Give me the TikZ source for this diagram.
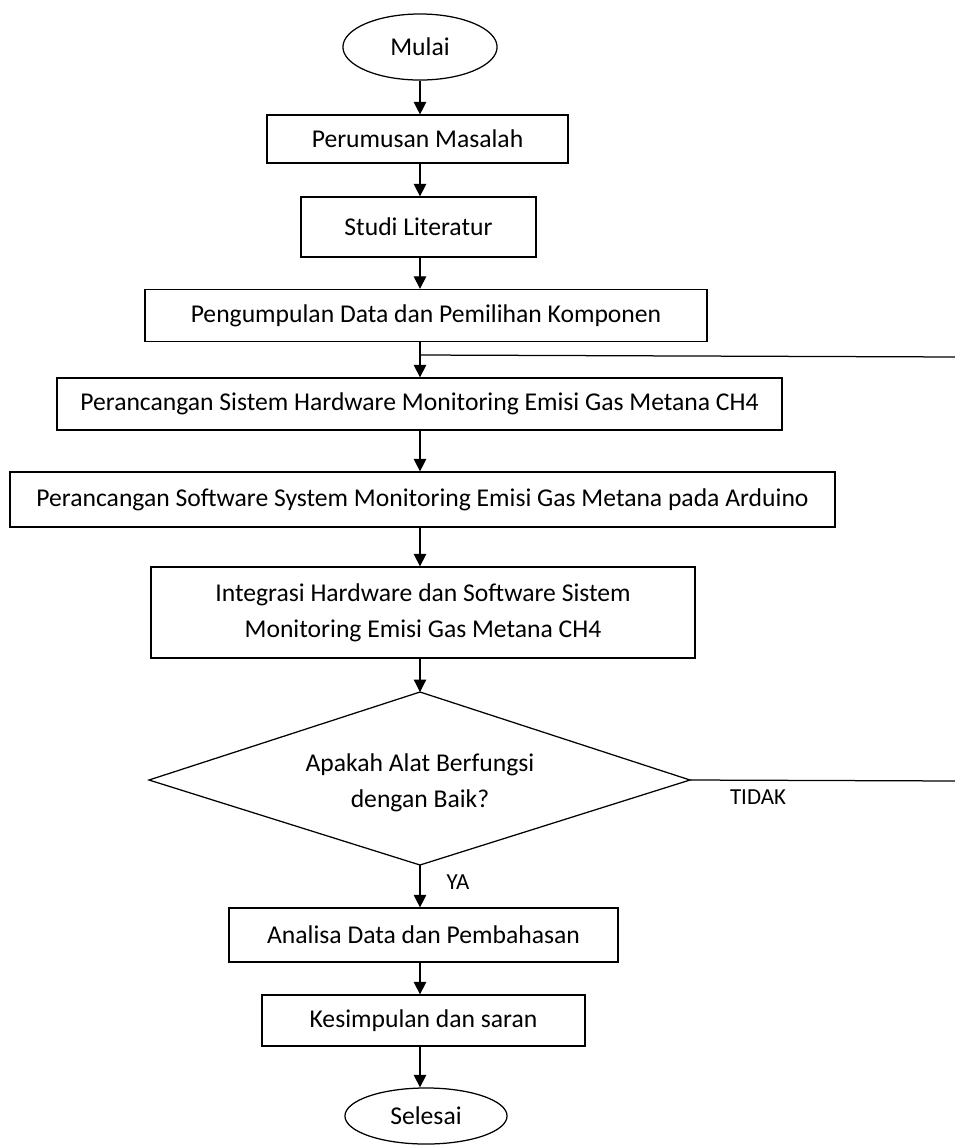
\documentclass[tikz,border=0pt]{standalone}
\usepackage{fontspec}
\setmainfont{Carlito}
\usetikzlibrary{arrows.meta,positioning,shapes.geometric,calc}

\begin{document}
\begin{tikzpicture}[x=0.48pt,y=-0.48pt,
  flowbox/.style={draw,line width=0.6pt,rectangle,align=center,font=\fontsize{12.3}{17.3}\selectfont,inner sep=2pt},
  flowterm/.style={draw,line width=0.6pt,ellipse,inner sep=0pt,font=\fontsize{12.3}{15}\selectfont},
  flowtext/.style={align=center,inner sep=0pt,font=\fontsize{12.3}{17.3}\selectfont},
  flowarr/.style={-{Triangle[length=6pt,width=6pt]},line width=0.6pt},
  flowline/.style={line width=0.6pt},
  flowlabel/.style={font=\fontsize{11}{13}\selectfont}
]
  \useasboundingbox (0,0) rectangle (954,1148);
  \coordinate (spine) at (420,0);

  % start
  \node[flowterm,minimum width=74pt,minimum height=31.7pt] (mulai) at (420,47) {Mulai};

  % steps
  \node[flowbox,minimum width=144.5pt,minimum height=23pt] (rumus) at (417.5,139) {Perumusan Masalah};
  \node[flowbox,minimum width=112.8pt,minimum height=28.8pt] (studi) at (418.5,227) {Studi Literatur};
  \node[flowbox,minimum width=269.8pt,minimum height=25pt] (kumpul) at (426,315.5) {Pengumpulan Data dan Pemilihan Komponen};
  \node[flowbox,minimum width=348pt,minimum height=25pt] (hardware) at (419.5,404) {Perancangan Sistem Hardware Monitoring Emisi Gas Metana CH4};
  \node[flowbox,minimum width=396pt,minimum height=26.4pt] (software) at (422.5,499.5) {Perancangan Software System Monitoring Emisi Gas Metana pada Arduino};
  \node[flowbox,minimum width=261pt,minimum height=43.7pt] (integrasi) at (423,612.5) {Integrasi Hardware dan Software Sistem\\Monitoring Emisi Gas Metana CH4};

  % decision
  \coordinate (cektop) at (420,692);
  \coordinate (cekright) at (690,780);
  \coordinate (cekbot) at (420,865);
  \coordinate (cekleft) at (149,780);
  \draw[flowline] (cektop) -- (cekright) -- (cekbot) -- (cekleft) -- cycle;
  \node[flowtext] (cek) at (420,783) {Apakah Alat Berfungsi\\dengan Baik?};

  % end part
  \node[flowbox,minimum width=186.7pt,minimum height=25.9pt] (analisa) at (423.5,935) {Analisa Data dan Pembahasan};
  \node[flowbox,minimum width=155pt,minimum height=24.5pt] (simpul) at (423.5,1020.5) {Kesimpulan dan saran};
  \node[flowterm,minimum width=77.8pt,minimum height=26.9pt] (selesai) at (426,1116) {Selesai};

  % main arrows
  \draw[flowarr] (mulai.south -| spine) -- (rumus.north -| spine);
  \draw[flowarr] (rumus.south -| spine) -- (studi.north -| spine);
  \draw[flowarr] (studi.south -| spine) -- (kumpul.north -| spine);
  \draw[flowarr] (kumpul.south -| spine) -- (hardware.north -| spine);
  \draw[flowarr] (hardware.south -| spine) -- (software.north -| spine);
  \draw[flowarr] (software.south -| spine) -- (integrasi.north -| spine);
  \draw[flowarr] (integrasi.south -| spine) -- (cektop);
  \draw[flowarr] (cekbot) -- (analisa.north -| cekbot);
  \draw[flowarr] (analisa.south -| spine) -- (simpul.north -| spine);
  \draw[flowarr] (simpul.south -| spine) -- (selesai.north -| spine);

  % loop back
  \coordinate (balik) at (420,355);
  \draw[flowline] (cekright) -- (960,781) -- (960,357) -- (balik);
  \node[flowlabel] (tidak) at (758,797) {TIDAK};
  \node[flowlabel] (ya) at (458,882) {YA};
\end{tikzpicture}
\end{document}
